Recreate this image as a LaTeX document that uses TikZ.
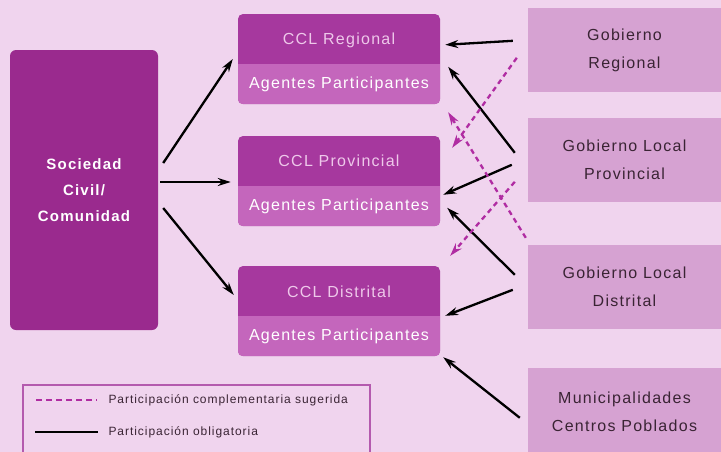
\documentclass[tikz,border=0pt]{standalone}
\usepackage{fontspec}
\setmainfont[LetterSpace=8]{Liberation Sans}
\usepackage{xcolor}
\usetikzlibrary{arrows.meta,calc}

\definecolor{fondo}{HTML}{F0D4EE}
\definecolor{socfill}{HTML}{9A2A8E}
\definecolor{ccltop}{HTML}{A6389E}
\definecolor{cclbot}{HTML}{C466BC}
\definecolor{gobfill}{HTML}{D6A2D2}
\definecolor{sugerido}{HTML}{B02CA2}
\definecolor{ccltext}{HTML}{EEC8EA}
\definecolor{gobtext}{HTML}{3A2434}
\definecolor{leyenda}{HTML}{B45AAE}

\begin{document}
\begin{tikzpicture}[x=1pt,y=-1pt,
        socbox/.style={fill=socfill, rounded corners=6pt, minimum width=148pt, minimum height=280pt, align=center, text=white, font=\fontsize{15}{26}\selectfont\bfseries},
        cclbox/.style={fill=ccltop, rounded corners=5pt, minimum width=202pt, minimum height=90pt},
        ccltitle/.style={text=ccltext, font=\fontsize{16}{18}\selectfont},
        agentes/.style={text=white, font=\fontsize{16}{18}\selectfont},
        gobbox/.style={fill=gobfill, minimum width=193pt, minimum height=84pt, align=center, text=gobtext, font=\fontsize{16}{28}\selectfont},
        leytext/.style={anchor=west, text=gobtext, font=\fontsize{12}{14}\selectfont},
        obligatoria/.style={black, line width=2.3pt, -{Stealth[length=13pt,width=8pt]}},
        sugerida/.style={sugerido, line width=2.3pt, dash pattern=on 5pt off 4pt, -{Stealth[length=13pt,width=8pt]}}]
            \useasboundingbox (0,0) rectangle (721,451);
            \filldraw[fondo] (0,0) rectangle (721,451);
            % sociedad civil
            \node[socbox] (soc) at (84,190) {Sociedad\\Civil/\\Comunidad};
            % consejos de coordinacion
            \node[cclbox] (cclreg) at (339,59) {};
            \node[cclbox] (cclprov) at (339,181) {};
            \node[cclbox] (ccldis) at (339,311) {};
            \begin{scope}
                \clip[rounded corners=5pt] (cclreg.south west) rectangle (cclreg.north east);
                \fill[cclbot] (cclreg.south west) rectangle ($(cclreg.east)+(0,5)$);
            \end{scope}
            \begin{scope}
                \clip[rounded corners=5pt] (cclprov.south west) rectangle (cclprov.north east);
                \fill[cclbot] (cclprov.south west) rectangle ($(cclprov.east)+(0,5)$);
            \end{scope}
            \begin{scope}
                \clip[rounded corners=5pt] (ccldis.south west) rectangle (ccldis.north east);
                \fill[cclbot] (ccldis.south west) rectangle ($(ccldis.east)+(0,5)$);
            \end{scope}
            \node[ccltitle] (treg) at (339,40) {CCL Regional};
            \node[agentes] (areg) at (339,84) {Agentes Participantes};
            \node[ccltitle] (tprov) at (339,161) {CCL Provincial};
            \node[agentes] (aprov) at (339,206) {Agentes Participantes};
            \node[ccltitle] (tdis) at (339,292) {CCL Distrital};
            \node[agentes] (adis) at (339,336) {Agentes Participantes};
            % gobiernos
            \node[gobbox] (gobreg) at (624.5,50) {Gobierno\\Regional};
            \node[gobbox] (gobprov) at (624.5,160) {Gobierno Local\\Provincial};
            \node[gobbox] (gobdis) at (624.5,287) {Gobierno Local\\Distrital};
            \node[gobbox, minimum height=88pt] (muni) at (624.5,412) {Municipalidades\\Centros Poblados};
            % flechas
            \draw[obligatoria] ($(soc.east)+(5,-27)$) -- ($(cclreg.west)+(-5,0)$);
            \draw[obligatoria] ($(soc.east)+(2,-8)$) -- ($(cclprov.west)+(-7,1)$);
            \draw[obligatoria] ($(soc.east)+(5,18)$) -- ($(ccldis.west)+(-4,-16)$);
            \draw[obligatoria] ($(gobreg.north west)+(-15,33)$) -- ($(cclreg.north east)+(5,31)$);
            \draw[obligatoria] ($(gobprov.north west)+(-13,35)$) -- ($(cclreg.north east)+(8,53)$);
            \draw[obligatoria] ($(gobprov.north west)+(-16,47)$) -- ($(cclprov.north east)+(3,59)$);
            \draw[obligatoria] ($(gobdis.north west)+(-13,30)$) -- ($(cclprov.north east)+(7,72)$);
            \draw[obligatoria] ($(gobdis.north west)+(-15,45)$) -- ($(ccldis.north east)+(5,50)$);
            \draw[obligatoria] ($(muni.north west)+(-8,50)$) -- ($(ccldis.south east)+(3,1)$);
            \draw[sugerida] ($(gobreg.north west)+(-11,50)$) -- ($(cclprov.north east)+(12,12)$);
            \draw[sugerida] ($(gobprov.north west)+(-13,64)$) -- ($(ccldis.north east)+(10,-10)$);
            \draw[sugerida] ($(gobdis.north west)+(-2,-7)$) -- ($(cclreg.south east)+(8,8)$);
            % leyenda
            \draw[leyenda, line width=1.8pt] (23,456) |- (370,385) -- (370,456);
            \draw[sugerido, line width=2.3pt, dash pattern=on 6pt off 4pt] (36,400) -- (97,400);
            \node[leytext] (leysug) at (105,400) {Participación complementaria sugerida};
            \draw[black, line width=1.5pt] (35,432) -- (98,432);
            \node[leytext] (leyobl) at (105,432) {Participación obligatoria};
\end{tikzpicture}
\end{document}
